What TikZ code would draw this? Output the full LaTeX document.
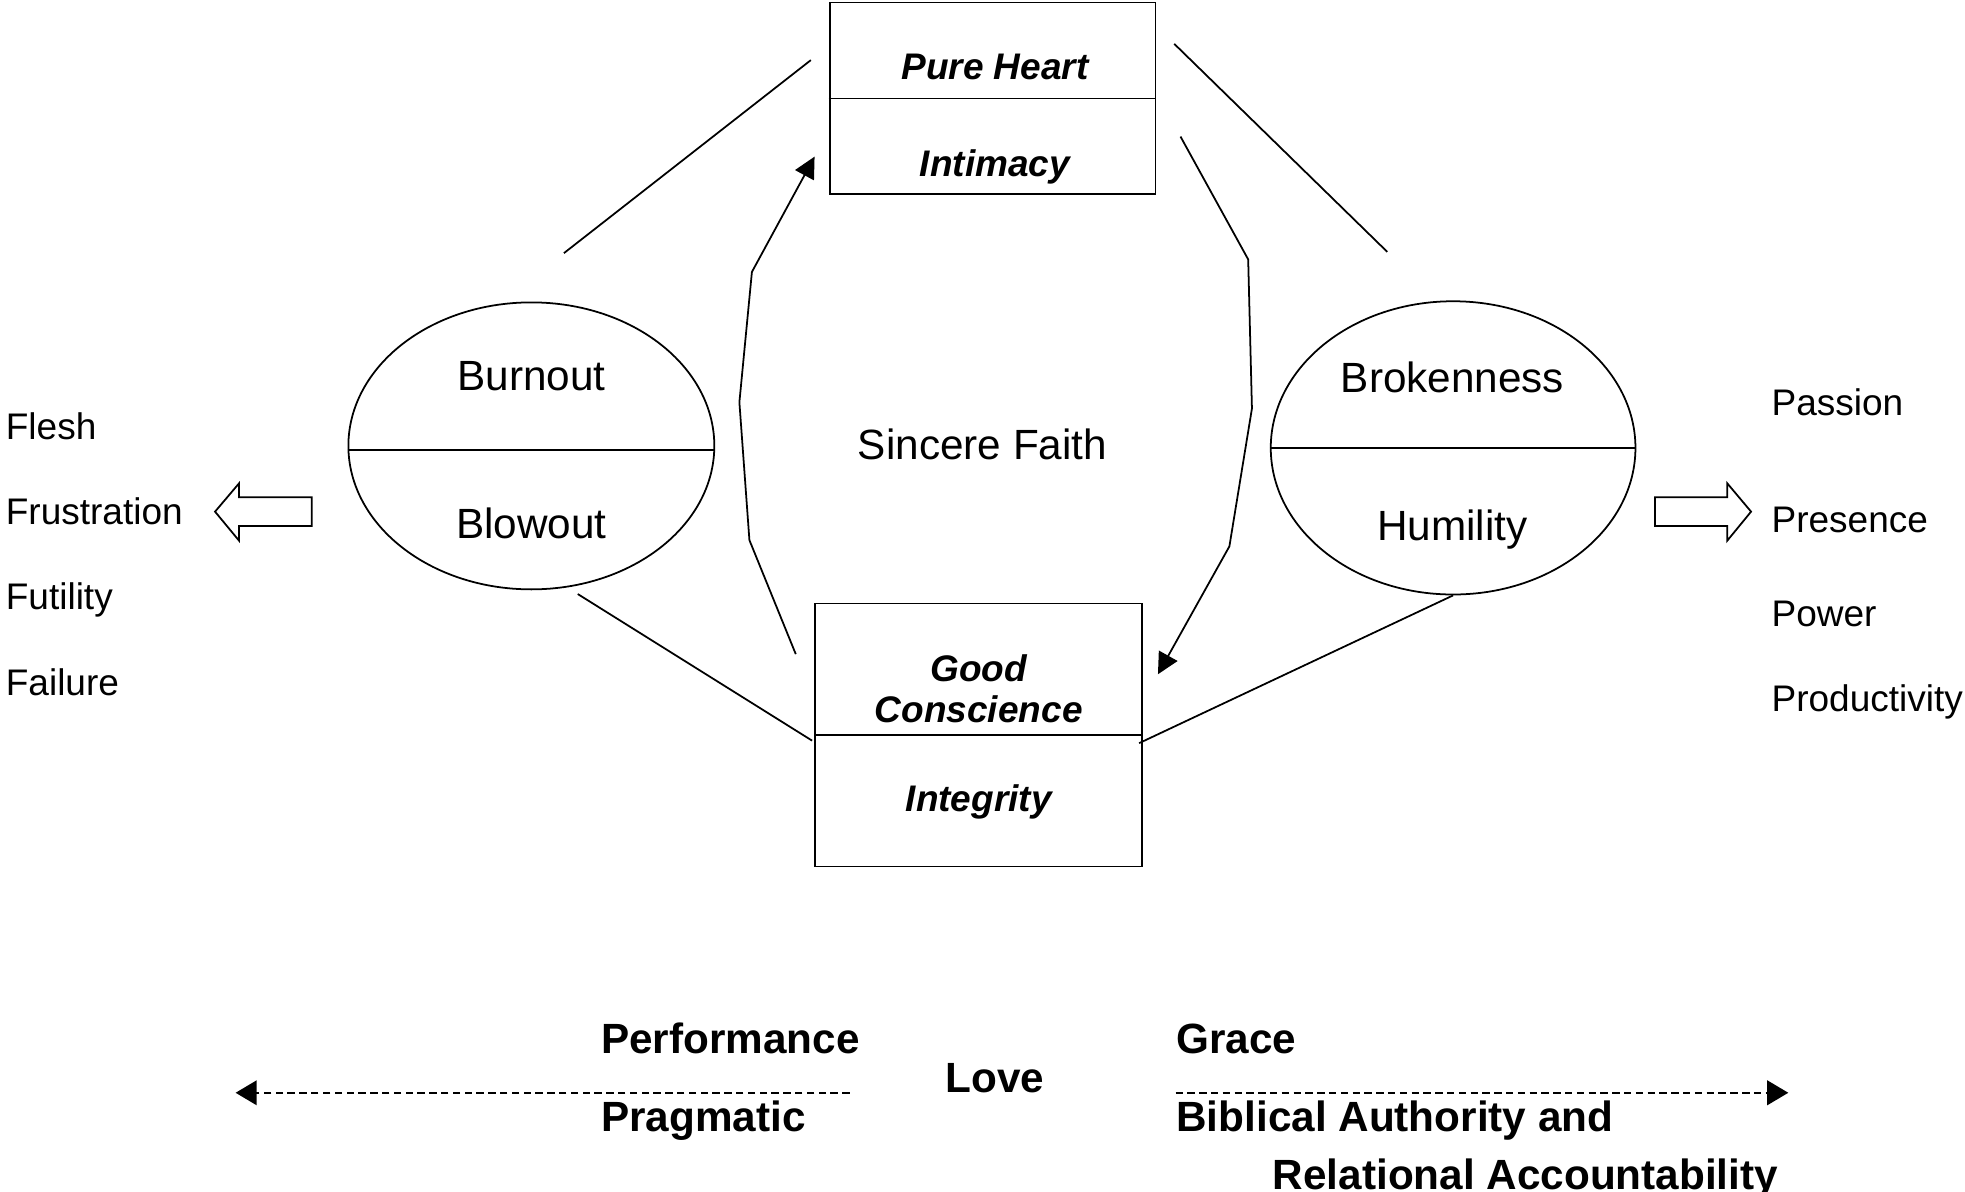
\documentclass[tikz,border=0pt]{standalone}
\usepackage{fontspec}
\setmainfont{Liberation Sans}
\usetikzlibrary{positioning,shapes.geometric,arrows.meta,calc}

\begin{document}
\begin{tikzpicture}[scale=1,line width=0.5pt,
  box/.style={draw,rectangle,minimum width=3.25cm,inner sep=0pt},
  oval/.style={draw,ellipse,minimum width=3.65cm,inner sep=0pt},
  boxtext/.style={anchor=base,inner sep=0pt,font=\fontsize{10.5}{12}\selectfont\bfseries\itshape},
  ovaltext/.style={anchor=base,inner sep=0pt,font=\fontsize{12}{14}\selectfont},
  listtext/.style={anchor=base west,inner sep=0pt,font=\fontsize{10.5}{12}\selectfont},
  bottomtext/.style={anchor=base west,inner sep=0pt,font=\fontsize{12}{14}\selectfont\bfseries},
  flowarrow/.style={-{Triangle[length=6pt,width=6pt]}},
  spectrum/.style={dash pattern=on 2.1pt off 1.25pt,-{Triangle[length=6pt,width=7pt]}}]
  \useasboundingbox (0,0) rectangle (19.6,11.8875);
  % the two boxes
  \node[box,minimum height=1.9125cm] (purebox) at (9.9,10.906) {};
  \draw (purebox.west) -- (purebox.east);
  \node[boxtext] (pure) at (9.925,11.0925) {Pure Heart};
  \node[boxtext] (intim) at (9.925,10.13) {Intimacy};
  \node[box,minimum width=3.2625cm,minimum height=2.625cm] (consbox) at (9.7625,4.556) {};
  \draw (consbox.west) -- (consbox.east);
  \node[boxtext] (good) at (9.7625,5.0925) {Good};
  \node[boxtext] (consc) at (9.7625,4.68) {Conscience};
  \node[boxtext] (integ) at (9.7625,3.7925) {Integrity};
  % the two ovals
  \node[oval,minimum height=2.8625cm] (burnoval) at (5.3,7.44) {};
  \draw ($(burnoval.west)+(0,-0.04)$) -- ($(burnoval.east)+(0,-0.04)$);
  \node[ovaltext] (burn) at (5.3,7.9875) {Burnout};
  \node[ovaltext] (blow) at (5.3,6.5125) {Blowout};
  \node[oval,minimum width=3.6375cm,minimum height=2.925cm] (brokoval) at (14.494,7.42) {};
  \draw (brokoval.west) -- (brokoval.east);
  \node[ovaltext] (brok) at (14.4875,7.975) {Brokenness};
  \node[ovaltext] (humil) at (14.4875,6.5) {Humility};
  \node[ovaltext] (faith) at (9.8,7.3) {Sincere Faith};
  % plain lines between the shapes
  \coordinate (burnup) at (5.625,9.3625);
  \coordinate (pureleft) at (8.0875,11.2875);
  \coordinate (pureright) at (11.7125,11.45);
  \coordinate (brokup) at (13.8375,9.375);
  \coordinate (burndown) at (5.7625,5.9625);
  \coordinate (consleft) at (8.1,4.5);
  \coordinate (consright) at (11.3625,4.475);
  \draw (burnup) -- (pureleft);
  \draw (pureright) -- (brokup);
  \draw (burndown) -- (consleft);
  \draw (brokoval.south) -- (consright);
  % the round trip
  \coordinate (upstart) at (7.9375,5.3625);
  \coordinate (upend) at (8.125,10.325);
  \coordinate (downstart) at (11.775,10.525);
  \coordinate (downend) at (11.55,5.1625);
  \draw[flowarrow] (upstart) -- (7.475,6.5) -- (7.375,7.875) -- (7.5,9.175) -- (upend);
  \draw[flowarrow] (downstart) -- (12.45,9.3) -- (12.4875,7.8125) -- (12.2625,6.4375) -- (downend);
  % hollow block arrows
  \draw (3.109,6.9275) -- (2.384,6.9275) -- (2.384,7.066) -- (2.145,6.784) -- (2.384,6.495) -- (2.384,6.641) -- (3.109,6.641) -- cycle;
  \draw (16.5075,6.9275) -- (17.229,6.9275) -- (17.229,7.066) -- (17.466,6.784) -- (17.229,6.495) -- (17.229,6.641) -- (16.5075,6.641) -- cycle;
  \node[listtext] (flesh) at (0.05,7.505) {Flesh};
  \node[listtext] (frust) at (0.05,6.655) {Frustration};
  \node[listtext] (futil) at (0.05,5.805) {Futility};
  \node[listtext] (fail) at (0.05,4.955) {Failure};
  \node[listtext] (passion) at (17.6625,7.7425) {Passion};
  \node[listtext] (presence) at (17.6625,6.58) {Presence};
  \node[listtext] (power) at (17.6625,5.6425) {Power};
  \node[listtext] (product) at (17.6625,4.7925) {Productivity};
  % the scale at the bottom
  \node[bottomtext] (perf) at (5.9875,1.375) {Performance};
  \node[bottomtext] (prag) at (5.9875,0.6) {Pragmatic};
  \node[bottomtext,anchor=base] (love) at (9.925,0.9875) {Love};
  \node[bottomtext] (grace) at (11.725,1.375) {Grace};
  \node[bottomtext] (bib) at (11.725,0.6) {Biblical Authority and};
  \node[bottomtext] (rel) at (12.6875,0.025) {Relational Accountability};
  \coordinate (perfline) at (8.475,0.9875);
  \coordinate (leftend) at (2.35,0.9875);
  \coordinate (graceline) at (11.725,0.9875);
  \coordinate (rightend) at (17.8375,0.9875);
  \draw[spectrum] (perfline) -- (leftend);
  \draw[spectrum] (graceline) -- (rightend);
\end{tikzpicture}
\end{document}
